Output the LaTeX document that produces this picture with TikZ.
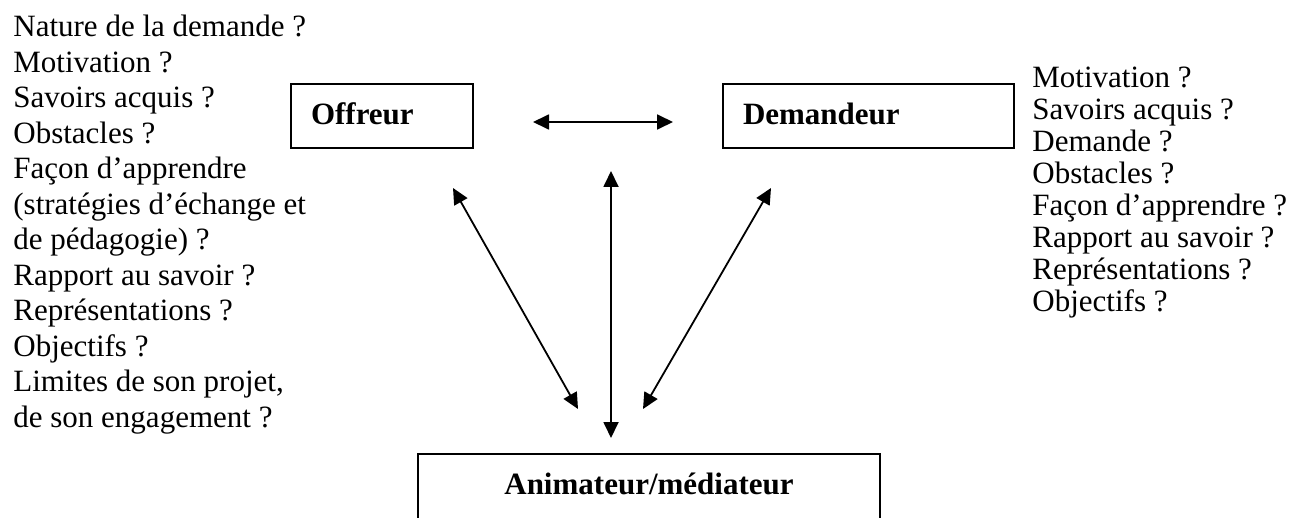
\documentclass[tikz,border=0pt]{standalone}
\usepackage{fontspec}
\setmainfont{Liberation Serif}
\usetikzlibrary{arrows.meta,calc}
\tikzset{
  box/.style={draw,line width=1pt,font=\fontsize{15.5}{17.75}\selectfont\bfseries,inner xsep=10pt,inner ysep=0pt},
  link/.style={line width=0.9pt,{Triangle[length=8pt,width=7.5pt]}-{Triangle[length=8pt,width=7.5pt]}},
  liste/.style={anchor=north west,inner sep=0pt,align=left,font=\fontsize{15.5}{17.75}\selectfont}
}
\begin{document}
\begin{tikzpicture}[x=0.5pt,y=-0.5pt]
    \useasboundingbox (0,0) rectangle (1300,518);

    \node[box,text width=71pt,text height=20.5pt,text depth=11.5pt,align=left] (offreur) at (382,116) {Offreur};
    \node[box,text width=125.5pt,text height=20.5pt,text depth=11.5pt,align=left] (demandeur) at (868.5,116) {Demandeur};
    \node[box,anchor=north,minimum width=231pt,text height=20pt,text depth=30pt] (animateur) at (649,453) {Animateur/médiateur};

    \draw[link] ($(offreur.east)+(59,6)$) -- ($(demandeur.west)+(-49,6)$);
    \draw[link] ($(offreur.south east)+(-21,39)$) -- ($(animateur.north)+(-71,-44)$);
    \draw[link] ($(animateur.north)+(-38,-15)$) -- ++(0,-267);
    \draw[link] ($(demandeur.south west)+(49,39)$) -- ($(animateur.north)+(-6,-44)$);

    \node[liste] (offreur liste) at (13,15) {Nature de la demande ?\\Motivation ?\\Savoirs acquis ?\\Obstacles ?\\Façon d’apprendre\\(stratégies d’échange et\\de pédagogie) ?\\Rapport au savoir ?\\Représentations ?\\Objectifs ?\\Limites de son projet,\\de son engagement ?};
    \node[liste,font=\fontsize{15.5}{16}\selectfont] (demandeur liste) at (1032,67) {Motivation ?\\Savoirs acquis ?\\Demande ?\\Obstacles ?\\Façon d’apprendre ?\\Rapport au savoir ?\\Représentations ?\\Objectifs ?};
\end{tikzpicture}
\end{document}
